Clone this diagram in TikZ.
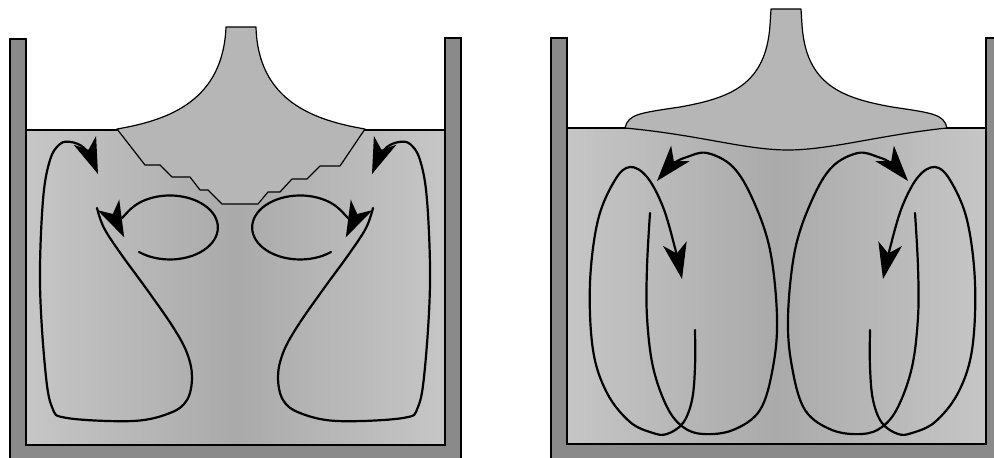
\documentclass[tikz,border=0pt]{standalone}
\usepackage{tikz}
\usepackage{xcolor}
\usetikzlibrary{arrows.meta}
\definecolor{Wall_Gray}{HTML}{8A8A8A}
\definecolor{Melt_Light}{HTML}{C6C6C6}
\definecolor{Melt_Dark}{HTML}{AAAAAA}
\definecolor{Seed_Gray}{HTML}{B6B6B6}

\begin{document}
\begin{tikzpicture}[x=0.5pt, y=-0.5pt,
    wall/.style={fill=Wall_Gray, draw=black, line width=0.7pt},
    melt/.style={left color=Melt_Light, right color=Melt_Light, middle color=Melt_Dark, draw=black, line width=0.7pt},
    seed/.style={fill=Seed_Gray, draw=black, line width=0.6pt, line join=round},
    flow/.style={line width=1.1pt, line cap=round, -{Stealth[length=18pt, width=12pt, inset=5pt]}}]

    \useasboundingbox (0,0) rectangle (994,458);
    \clip (0,0) rectangle (994,458);

    % Crucible 1: walls and melt
    \draw[wall] (10,39) -- (10,470) -- (461,470) -- (461,38) -- (445,38)
        -- (445,445) -- (26,445) -- (26,39) -- cycle;
    \draw[melt] (26,130) rectangle (445,445);

    % Crystal 1 with stepped interface
    \draw[seed] (226,27) -- (256,27) .. controls (258,100) and (312,120) .. (365,129)
        -- (340,166) -- (320,166) -- (307,179) -- (292,179) -- (280,192) -- (268,192)
        -- (258,204) -- (222,204) -- (208,190) -- (200,190) -- (190,177) -- (172,177)
        -- (160,165) -- (145,165) -- (117,129) .. controls (170,120) and (223,100) .. (226,27)
        -- cycle;

    % Flow 1 (left half, mirrored about x = 235)
    \foreach \m/\s in {0/1, 470/-1} {
        \begin{scope}[shift={(\m,0)}, xscale=\s]
            \draw[flow] plot[smooth, tension=0.6] coordinates {
                (97,208) (104,228) (121,254) (148,291) (173,327) (187,353) (192,377)
                (187,400) (170,413) (133,421) (67,418) (52,407) (45,367) (40,283)
                (43,200) (50,160) (60,144) (71,142) (83,147) (91,158) (98,174)};
            \draw[flow] (139,252) arc[start angle=130, end angle=-198, x radius=48, y radius=32];
        \end{scope}
    }

    % Crucible 2: walls and melt
    \draw[wall] (551,38) -- (551,470) -- (1010,470) -- (1010,38) -- (986,38)
        -- (986,444) -- (567,444) -- (567,38) -- cycle;
    \draw[melt] (567,128) rectangle (986,444);

    % Crystal 2 with wide shoulder and curved interface
    \draw[seed] (771,9) -- (801,9) -- (802,25) .. controls (806,85) and (842,98) .. (892,107)
        .. controls (932,113) and (944,114) .. (947,128)
        .. controls (880,135) and (830,150) .. (788,150)
        .. controls (745,150) and (700,135) .. (625,128)
        .. controls (628,114) and (640,113) .. (680,107)
        .. controls (730,98) and (766,85) .. (770,25) -- cycle;

    % Flow 2 (left half, mirrored about x = 782.5)
    \foreach \m/\s in {0/1, 1565/-1} {
        \begin{scope}[shift={(\m,0)}, xscale=\s]
            \draw[flow] plot[smooth, tension=0.6] coordinates {
                (695,330) (695,367) (692,400) (683,423) (667,434) (653,433) (630,422)
                (607,393) (593,350) (590,283) (598,220) (615,180) (630,167) (647,177)
                (663,207) (675,248) (682,279)};
            \draw[flow] plot[smooth, tension=0.6] coordinates {
                (650,213) (647,267) (647,317) (653,367) (667,407) (683,427) (703,434)
                (733,430) (760,410) (773,367) (777,317) (770,250) (753,200) (733,167)
                (707,153) (687,157) (673,164) (657,181)};
        \end{scope}
    }
\end{tikzpicture}
\end{document}
